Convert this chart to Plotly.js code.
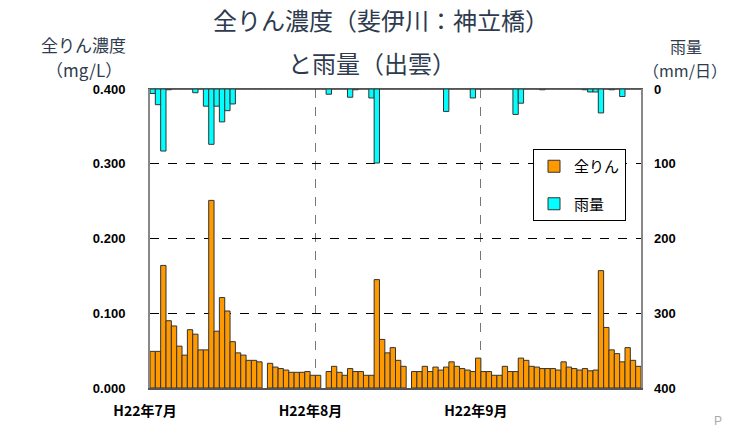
<!DOCTYPE html>
<html>
<head>
<meta charset="utf-8">
<script src="https://cdn.plot.ly/plotly-3.0.1.min.js"></script>
<style>
  body { margin: 0; background: #fff; }
  #chart { width: 731px; height: 428px; }
</style>
</head>
<body>
<div id="chart"></div>
<script>
// 全りん濃度 (mg/L), daily, by month (null = no data)
var tpJul = [0.049, 0.049, 0.164, 0.090, 0.083, 0.056, 0.044, 0.078, 0.072, 0.051,
             0.051, 0.251, 0.076, 0.121, 0.103, 0.062, 0.047, 0.044, 0.037, 0.037,
             0.035, null, 0.033, 0.028, 0.026, 0.024, 0.021, 0.021, 0.021, 0.022, 0.017];
var tpAug = [0.017, null, 0.022, 0.029, 0.021, 0.017, 0.026, 0.022, 0.022, 0.017,
             0.017, 0.145, 0.065, 0.047, 0.054, 0.037, 0.029, null, 0.022, 0.022,
             0.029, 0.022, 0.028, 0.024, 0.028, 0.035, 0.029, 0.026, 0.024, 0.022, 0.040];
var tpSep = [0.022, 0.022, 0.017, 0.017, 0.029, 0.022, 0.022, 0.040, 0.037, 0.029,
             0.028, 0.026, 0.026, 0.026, 0.024, 0.035, 0.028, 0.026, 0.024, 0.026,
             0.023, 0.024, 0.157, 0.081, 0.051, 0.046, 0.035, 0.054, 0.037, 0.029];

// 雨量 (mm/日), daily, by month
var rainJul = [6, 21, 83, 1, 0, 0, 0, 0, 5, 0,
               23, 74, 23, 44, 29, 20, 0, 0, 0, 0,
               0, 0, 0, 0, 0, 0, 0, 0, 0, 0, 0];
var rainAug = [0, 0, 7, 0, 0, 0, 11, 1, 0, 0,
               12, 99, 0, 0, 0, 0, 0, 0, 0, 0,
               0, 0, 0, 0, 30, 0, 0, 0, 0, 12, 0];
var rainSep = [0, 0, 0, 0, 0, 0, 34, 19, 0, 0,
               0, 1, 0, 0, 0, 0, 0, 0, 0, 1,
               4, 4, 32, 0, 1, 0, 10, 0, 0, 0];

var months = ['2010-07', '2010-08', '2010-09'];
var monthLabels = ['H22年7月', 'H22年8月', 'H22年9月'];
var monthTicks = ['2010-06-30 12:00', '2010-07-31 12:00', '2010-08-31 12:00'];
var yTicksLeft = [0, 0.1, 0.2, 0.3, 0.4];
var yTicksRight = [0, 100, 200, 300, 400];

// build the day list for each month
var days = [];
[tpJul, tpAug, tpSep].forEach(function (arr, m) {
  for (var d = 1; d <= arr.length; d++) {
    days.push(months[m] + '-' + (d < 10 ? '0' + d : d));
  }
});
var tp = tpJul.concat(tpAug, tpSep);
var rain = rainJul.concat(rainAug, rainSep);

var textColor = '#2e3b4e';
var jp = '"Noto Sans CJK JP", "Noto Sans", sans-serif';

var tpTrace = {
  x: days, y: tp, type: 'bar', name: '全りん', legendgroup: 'a',
  marker: { color: '#ff9900', line: { color: '#333333', width: 1 } },
  yaxis: 'y'
};
var rainTrace = {
  x: days, y: rain, type: 'bar', name: '雨量', legendgroup: 'b',
  marker: { color: '#00ffff', line: { color: '#333333', width: 1 } },
  yaxis: 'y2'
};

function px2x(p) { return (p - 150) / 491; }
function px2y(p) { return (388 - p) / 299; }

function label(text, x, y, size) {
  return { text: text, x: px2x(x), y: px2y(y), xref: 'paper', yref: 'paper',
           showarrow: false, xanchor: 'center', yanchor: 'middle',
           font: { size: size, family: jp, color: textColor } };
}

var layout = {
  width: 731, height: 428,
  margin: { l: 150, r: 90, t: 89, b: 40 },
  paper_bgcolor: '#ffffff', plot_bgcolor: '#ffffff',
  barmode: 'overlay', bargap: 0,
  font: { family: jp, color: '#000' },
  showlegend: true,
  legend: {
    x: px2x(533), y: px2y(149), xanchor: 'left', yanchor: 'top',
    bgcolor: '#ffffff', bordercolor: '#000000', borderwidth: 1,
    font: { size: 15, family: jp, color: '#000' },
    tracegroupgap: 15, itemwidth: 30
  },
  xaxis: {
    type: 'date',
    range: ['2010-06-30 12:00', '2010-09-30 12:00'],
    tickvals: monthTicks, ticktext: monthLabels,
    ticks: '', ticklabelstandoff: 10, ticklabelshift: -5,
    tickfont: { size: 14, family: jp, weight: 'bold', color: '#000' },
    showgrid: true, gridcolor: '#777777', griddash: 'dash', gridwidth: 1,
    showline: true, linecolor: '#555555', linewidth: 1.5, mirror: true
  },
  yaxis: {
    range: [0, 0.4], tickvals: yTicksLeft, tickformat: '.3f',
    ticks: '', ticklabelstandoff: 20,
    tickfont: { size: 13, family: 'Liberation Sans, Arial, sans-serif', weight: 'bold', color: '#000' },
    showgrid: true, gridcolor: '#000000', griddash: 'dash', gridwidth: 1,
    zeroline: false,
    showline: true, linecolor: '#888888', linewidth: 2, mirror: true
  },
  yaxis2: {
    overlaying: 'y', side: 'right',
    range: [400, 0], tickvals: yTicksRight,
    ticks: '', ticklabelstandoff: 12,
    tickfont: { size: 13, family: 'Liberation Sans, Arial, sans-serif', weight: 'bold', color: '#000' },
    showgrid: false, zeroline: false, showline: false
  },
  annotations: [
    label('全りん濃度（斐伊川：神立橋）', 381, 20, 24),
    label('と雨量（出雲）', 372, 62, 24),
    label('全りん濃度', 83, 44, 17),
    label('（mg/L）', 84, 69, 17),
    label('雨量', 686, 46, 16),
    label('（mm/日）', 685, 70, 16),
    { text: 'P', x: px2x(718), y: px2y(421), xref: 'paper', yref: 'paper',
      showarrow: false, xanchor: 'center', yanchor: 'middle',
      font: { size: 12, family: 'Liberation Sans, sans-serif', color: '#aaaaaa' } }
  ]
};

Plotly.newPlot('chart', [tpTrace, rainTrace], layout, { displayModeBar: false, staticPlot: true });
</script>
</body>
</html>
